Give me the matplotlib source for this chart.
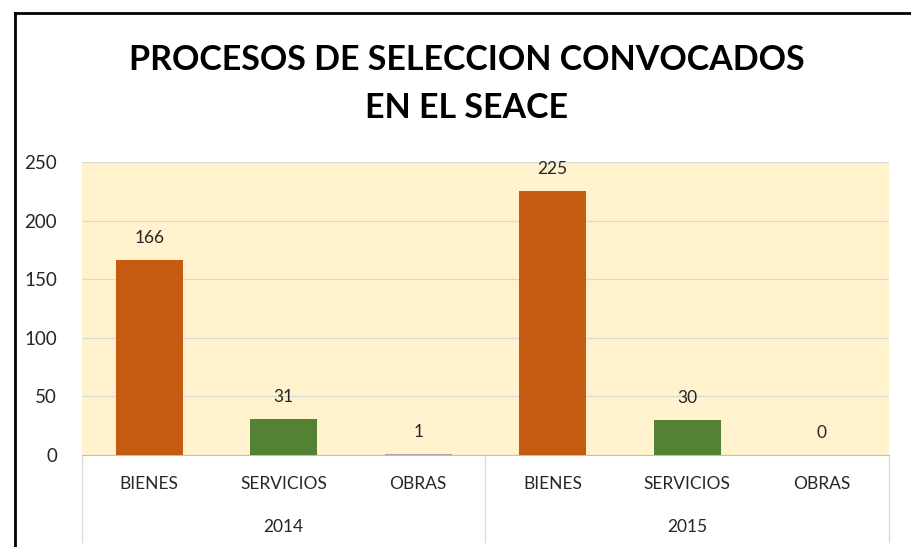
import matplotlib
matplotlib.use("Agg")
import matplotlib.pyplot as plt
from matplotlib.lines import Line2D

years = ["2014", "2015"]
categories = ["BIENES", "SERVICIOS", "OBRAS"]
values = [166, 31, 1, 225, 30, 0]
colors_by_cat = {"BIENES": "#C55A11", "SERVICIOS": "#548235", "OBRAS": "#A5A5A5"}
yticks = [0, 50, 100, 150, 200, 250]
title = "PROCESOS DE SELECCION CONVOCADOS\nEN EL SEACE"

plt.rcParams['font.family'] = ['Lato', 'DejaVu Sans']

W, H = 912, 547
fig = plt.figure(figsize=(W/100, H/100), dpi=100)
fig.patch.set_facecolor("white")

L, R, T, B = 82, 889, 162, 455
ax = fig.add_axes([L/W, 1 - B/H, (R-L)/W, (B-T)/H])
ax.set_facecolor("#FFF2CC")

labels = [c for y in years for c in categories]
xs = list(range(len(values)))
cols = [colors_by_cat[c] for c in labels]
ax.bar(xs, values, width=0.5, color=cols, zorder=3)
for x, v in zip(xs, values):
    ax.text(x, v + 12, str(v), ha="center", va="bottom", fontsize=12.5, color="#262626", zorder=4)

ax.set_xlim(-0.5, len(values) - 0.5)
ax.set_ylim(0, 250)
ax.set_yticks(yticks)
ax.set_yticklabels([str(t) for t in yticks], fontsize=13.5, color="#262626")
ax.tick_params(axis="y", length=0, pad=18)
ax.set_xticks([])
ax.grid(axis="y", color="#D9D9D9", linewidth=0.8, zorder=1)
for s in ["top", "right", "left"]:
    ax.spines[s].set_visible(False)
ax.spines["bottom"].set_color("#BFBFBF")

# category labels
for x, lab in zip(xs, labels):
    ax.text(x, -0.10, lab, transform=ax.get_xaxis_transform(), ha="center", va="center",
            fontsize=12.5, color="#262626")
for i, y in enumerate(years):
    ax.text(i*3 + 1, -0.245, y, transform=ax.get_xaxis_transform(), ha="center", va="center",
            fontsize=12.5, color="#262626")
ybot = -(H - 5 - B) / (B - T)
for xb in [-0.5, 2.5, 5.5]:
    ax.add_line(Line2D([xb, xb], [0, ybot], transform=ax.get_xaxis_transform(),
                       color="#D9D9D9", linewidth=1, clip_on=False))

fig.text(467/W, 1 - 84/H, title, ha="center", va="center",
         fontsize=24.5, fontweight="bold", color="black", linespacing=1.6)

# outer border (left and top visible)
fig.add_artist(Line2D([15/W, 15/W], [0, 1 - 13/H], transform=fig.transFigure, color="black", linewidth=2))
fig.add_artist(Line2D([15/W, 1], [1 - 13/H, 1 - 13/H], transform=fig.transFigure, color="black", linewidth=2))

fig.savefig("out.png", dpi=100)
